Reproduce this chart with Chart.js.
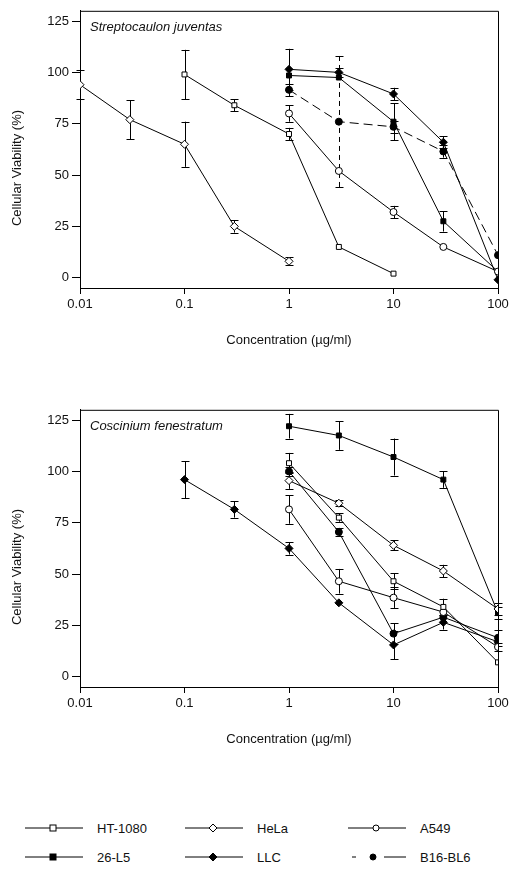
<!DOCTYPE html>
<html>
<head>
<meta charset="utf-8">
<script src="https://cdn.jsdelivr.net/npm/chart.js@4.4.1/dist/chart.umd.min.js"></script>
<style>
  body { margin: 0; background: #fff; width: 513px; height: 872px; position: relative; overflow: hidden;
         font-family: "Liberation Sans", Arial, sans-serif; color: #111; }
  .box { position: absolute; left: 0; width: 513px; height: 360px; }
  #box1 { top: 0; }
  #box2 { top: 399px; }
  .leg { position: absolute; display: flex; align-items: center; font-size: 13px; }
  .leg svg { margin-right: 14px; }
</style>
</head>
<body>
<div class="box" id="box1"><canvas id="chartTop"></canvas></div>
<div class="box" id="box2"><canvas id="chartBottom"></canvas></div>
<div id="legend"></div>

<script>
// x ticks (concentration, log scale) and y ticks
const xTicks = [0.01, 0.1, 1, 10, 100];
const yTicks = [0, 25, 50, 75, 100, 125];

// --- Streptocaulon juventas (top) ---
const topHtX = [0.1, 0.3, 1, 3, 10];
const topHtY = [99, 84, 70, 15, 2];
const topHtErr = [12, 3, 3, 0, 0];

const topHelaX = [0.01, 0.03, 0.1, 0.3, 1];
const topHelaY = [94, 77, 65, 25, 8];
const topHelaErr = [7, 9.5, 11, 3, 2];

const topX = [1, 3, 10, 30, 100];
const topA549Y = [80, 52, 32, 15, 3];
const topA549Err = [4, 0, 3, 0, 0];
const top26Y = [98.5, 97.5, 76, 27.5, 3];
const top26Err = [0, 0, 9, 5, 0];
const topLlcY = [101.5, 100, 89.5, 66, -1];
const topLlcErr = [10, 2, 3, 3, 0];
const topB16Y = [91.5, 76, 73.5, 61.5, 11];
const topB16Err = [3, 32, 3, 3, 0];

// --- Coscinium fenestratum (bottom) ---
const botX = [1, 3, 10, 30, 100];
const botHtY = [104, 77.5, 46.5, 34, 7];
const botHtErr = [5, 2, 4, 4, 0];
const botHelaY = [95.5, 84.5, 64, 51.5, 33];
const botHelaErr = [4, 1.5, 2.5, 3, 3];
const botA549Y = [81.5, 46.5, 38.5, 31.5, 14.5];
const botA549Err = [7, 6, 5, 0, 2];
const bot26Y = [122, 117.5, 107, 96, 31];
const bot26Err = [6, 7, 9, 4, 3];
const botLlcX = [0.1, 0.3, 1, 3, 10, 30, 100];
const botLlcY = [96, 81.5, 62.5, 36, 15.5, 26.5, 17];
const botLlcErr = [9, 4, 3, 0, 7, 3.5, 0];
const botB16Y = [100, 70.5, 21, 29, 19];
const botB16Err = [2, 2, 5, 0, 4];

const seriesStyle = {
  'HT-1080': { pointStyle: 'rect', fill: '#fff', radius: 3.5 },
  'HeLa':    { pointStyle: 'rectRot', fill: '#fff', radius: 4 },
  'A549':    { pointStyle: 'circle', fill: '#fff', radius: 3.5 },
  '26-L5':   { pointStyle: 'rect', fill: '#000', radius: 3.5 },
  'LLC':     { pointStyle: 'rectRot', fill: '#000', radius: 4 },
  'B16-BL6': { pointStyle: 'circle', fill: '#000', radius: 3.5 }
};

function makeSet(label, xs, ys, errs, dash) {
  const s = seriesStyle[label];
  return {
    label: label,
    data: xs.map((x, i) => ({ x: x, y: ys[i] })),
    err: errs,
    errDash: dash ? [5, 4] : [],
    showLine: true,
    borderColor: '#000',
    borderWidth: 1,
    borderDash: dash ? [9, 5] : [],
    pointStyle: s.pointStyle,
    pointRadius: s.radius,
    pointBackgroundColor: s.fill,
    pointBorderColor: '#000',
    pointBorderWidth: 1
  };
}

// error bars drawn through the chart scales
const errorBars = {
  id: 'errorBars',
  beforeDatasetsDraw(chart) {
    const ctx = chart.ctx;
    const xs = chart.scales.x, ys = chart.scales.y;
    ctx.save();
    ctx.strokeStyle = '#000';
    ctx.lineWidth = 1;
    chart.data.datasets.forEach(ds => {
      ds.data.forEach((p, i) => {
        const e = ds.err[i];
        if (!e) return;
        const px = Math.round(xs.getPixelForValue(p.x)) + 0.5;
        const top = Math.max(ys.getPixelForValue(p.y + e), chart.chartArea.top);
        const bot = Math.min(ys.getPixelForValue(p.y - e), chart.chartArea.bottom);
        ctx.setLineDash(ds.errDash);
        ctx.beginPath();
        ctx.moveTo(px, top); ctx.lineTo(px, bot);
        ctx.stroke();
        ctx.setLineDash([]);
        ctx.beginPath();
        ctx.moveTo(px - 4, Math.round(top) + 0.5); ctx.lineTo(px + 4, Math.round(top) + 0.5);
        ctx.moveTo(px - 4, Math.round(bot) + 0.5); ctx.lineTo(px + 4, Math.round(bot) + 0.5);
        ctx.stroke();
      });
    });
    ctx.restore();
  }
};

// frame on top/right, species name and y title
const frame = {
  id: 'frame',
  afterDraw(chart, args, opts) {
    const { ctx, chartArea: a } = chart;
    ctx.save();
    ctx.strokeStyle = '#000';
    ctx.lineWidth = 1;
    ctx.beginPath();
    ctx.moveTo(a.left, a.top + 0.5); ctx.lineTo(a.right + 0.5, a.top + 0.5); ctx.lineTo(a.right + 0.5, a.bottom);
    ctx.stroke();
    ctx.fillStyle = '#111';
    ctx.font = 'italic 13px "Liberation Sans", Arial, sans-serif';
    ctx.textBaseline = 'middle';
    ctx.fillText(opts.name, a.left + 10, a.top + 17);
    // y axis title, sits a bit below the middle like the original
    ctx.font = '13px "Liberation Sans", Arial, sans-serif';
    ctx.translate(17, 168);
    ctx.rotate(-Math.PI / 2);
    ctx.textAlign = 'center';
    ctx.fillText('Cellular Viability (%)', 0, 0);
    ctx.restore();
  }
};

function makeOptions(name) {
  return {
    responsive: false,
    animation: false,
    layout: { padding: { left: 0, right: 15, top: 6, bottom: 0 } },
    plugins: { legend: { display: false }, tooltip: { enabled: false }, frame: { name: name } },
    scales: {
      x: {
        type: 'logarithmic',
        min: 0.01, max: 100,
        afterBuildTicks: s => { s.ticks = xTicks.map(v => ({ value: v })); },
        afterFit: s => { s.height = 72; },
        ticks: { color: '#111', font: { size: 13, family: '"Liberation Sans", Arial' }, padding: 3, maxRotation: 0,
                 callback: v => String(v) },
        grid: { drawOnChartArea: false, tickLength: 6, color: '#000' },
        border: { color: '#000', width: 1 },
        title: { display: true, text: 'Concentration (\u00b5g/ml)', color: '#111',
                 font: { size: 13, family: '"Liberation Sans", Arial' }, padding: { top: 0, bottom: 12 } }
      },
      y: {
        min: -5, max: 130,
        afterBuildTicks: s => { s.ticks = yTicks.map(v => ({ value: v })); },
        afterFit: s => { s.width = 80; },
        ticks: { color: '#111', font: { size: 13, family: '"Liberation Sans", Arial' }, padding: 3 },
        grid: { drawOnChartArea: false, tickLength: 8, color: '#000' },
        border: { color: '#000', width: 1 },
        title: { display: false }
      }
    }
  };
}

function sizeCanvas(id) {
  const c = document.getElementById(id);
  c.width = 513; c.height = 360;
  c.style.width = '513px'; c.style.height = '360px';
  return c;
}

new Chart(sizeCanvas('chartTop'), {
  type: 'scatter',
  data: {
    datasets: [
      makeSet('HT-1080', topHtX, topHtY, topHtErr),
      makeSet('HeLa', topHelaX, topHelaY, topHelaErr),
      makeSet('A549', topX, topA549Y, topA549Err),
      makeSet('26-L5', topX, top26Y, top26Err),
      makeSet('LLC', topX, topLlcY, topLlcErr),
      makeSet('B16-BL6', topX, topB16Y, topB16Err, true)
    ]
  },
  options: makeOptions('Streptocaulon juventas'),
  plugins: [errorBars, frame]
});

new Chart(sizeCanvas('chartBottom'), {
  type: 'scatter',
  data: {
    datasets: [
      makeSet('HT-1080', botX, botHtY, botHtErr),
      makeSet('HeLa', botX, botHelaY, botHelaErr),
      makeSet('A549', botX, botA549Y, botA549Err),
      makeSet('26-L5', botX, bot26Y, bot26Err),
      makeSet('LLC', botLlcX, botLlcY, botLlcErr),
      makeSet('B16-BL6', botX, botB16Y, botB16Err)
    ]
  },
  options: makeOptions('Coscinium fenestratum'),
  plugins: [errorBars, frame]
});

// legend below the charts, 3 columns x 2 rows
const legendCols = [25, 185, 348];
const legendRows = [828, 857];
const legendOrder = ['HT-1080', 'HeLa', 'A549', '26-L5', 'LLC', 'B16-BL6'];

function markerSvg(label) {
  const s = seriesStyle[label];
  let line = '<line x1="0" y1="8" x2="58" y2="8" stroke="#000" stroke-width="1"/>';
  if (label === 'B16-BL6') {
    line = '<line x1="4" y1="8" x2="8" y2="8" stroke="#000"/><line x1="36" y1="8" x2="58" y2="8" stroke="#000"/>';
  }
  let m;
  const cx = label === 'B16-BL6' ? 25 : 28;
  if (s.pointStyle === 'rect') m = `<rect x="${cx - 3}" y="5" width="6" height="6" fill="${s.fill}" stroke="#000"/>`;
  else if (s.pointStyle === 'rectRot') m = `<polygon points="${cx},4 ${cx + 4},8 ${cx},12 ${cx - 4},8" fill="${s.fill}" stroke="#000"/>`;
  else m = `<circle cx="${cx}" cy="8" r="3" fill="${s.fill}" stroke="#000"/>`;
  return `<svg width="58" height="16">${line}${m}</svg>`;
}

const legendEl = document.getElementById('legend');
legendOrder.forEach((label, i) => {
  const d = document.createElement('div');
  d.className = 'leg';
  d.style.left = legendCols[i % 3] + 'px';
  d.style.top = (legendRows[Math.floor(i / 3)] - 8) + 'px';
  d.innerHTML = markerSvg(label) + '<span>' + label + '</span>';
  legendEl.appendChild(d);
});
</script>
</body>
</html>
